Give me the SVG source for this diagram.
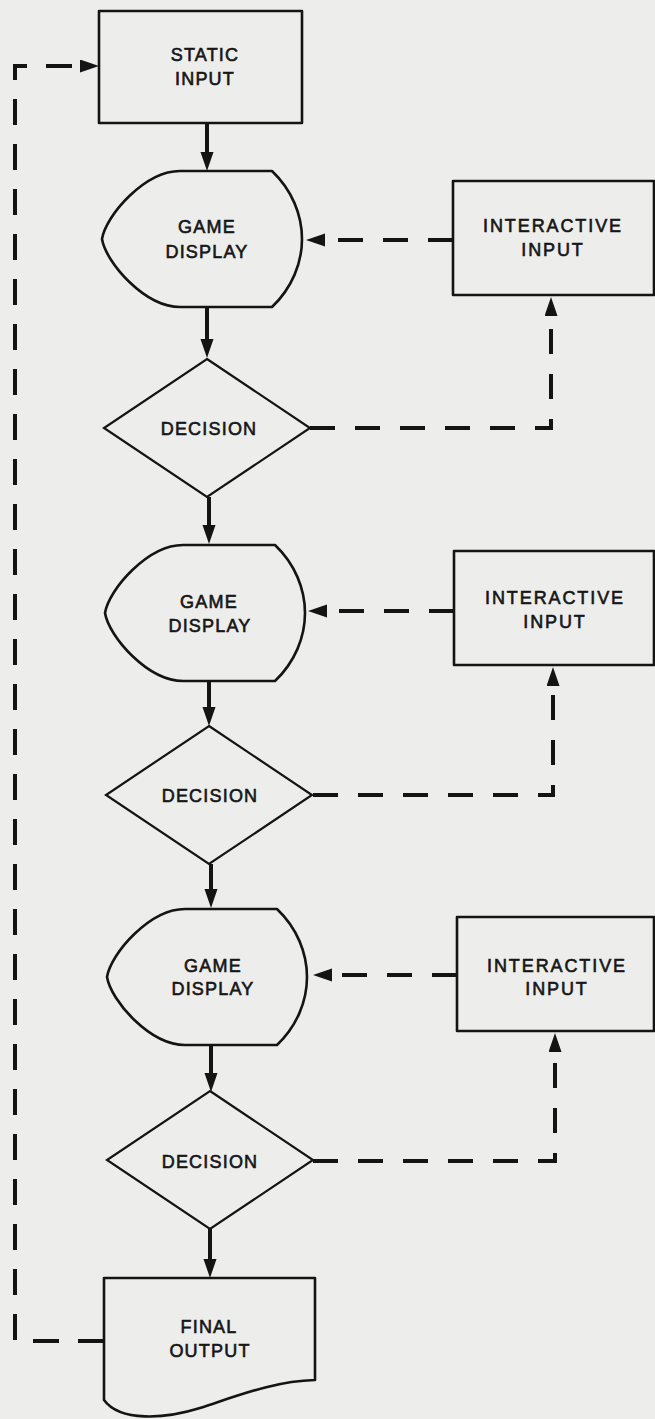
<svg xmlns="http://www.w3.org/2000/svg" xmlns:xlink="http://www.w3.org/1999/xlink" width="655" height="1419" viewBox="0 0 655 1419">
<style>
.shape{fill:none;stroke:#141414;stroke-width:2.6;stroke-linejoin:round}
.diam{fill:none;stroke:#141414;stroke-width:2.2;stroke-linejoin:miter}
.solid{fill:none;stroke:#141414;stroke-width:4}
.dash{fill:none;stroke:#141414;stroke-width:4;stroke-dasharray:25 20}
.lbl{font-family:"Liberation Sans",Arial,sans-serif;font-size:18px;font-weight:normal;fill:#161616;stroke:#161616;stroke-width:0.6;text-anchor:middle;letter-spacing:1.2px}
.wide{letter-spacing:1.9px}
</style>
<defs>
<marker id="ah" markerUnits="userSpaceOnUse" markerWidth="20" markerHeight="14" refX="9" refY="6.5" orient="auto">
<path d="M0,0 L19,6.5 L0,13 Z" fill="#141414"/>
</marker>
<path id="disp" d="M-27,-68 H65 C85,-49 95,-24 95,0 C95,24 85,49 65,68 H-27 C-62,68 -101,24 -105,0 C-101,-24 -62,-68 -27,-68 Z"/>
<path id="dia" d="M0,-69 L103,0 L0,69 L-103,0 Z"/>
</defs>
<rect x="0" y="0" width="655" height="1419" fill="#ededeb"/>

<g id="static-input">
<rect class="shape" x="99" y="11" width="203" height="112"/>
<text class="lbl" x="205" y="61">STATIC</text>
<text class="lbl" x="205" y="85">INPUT</text>
</g>

<g id="game-display-1">
<use xlink:href="#disp" href="#disp" class="shape" transform="translate(207,239)"/>
<text class="lbl" x="207" y="233">GAME</text>
<text class="lbl" x="207" y="258">DISPLAY</text>
</g>

<g id="interactive-input-1">
<rect class="shape" x="453" y="181" width="201" height="114"/>
<text class="lbl wide" x="553" y="232">INTERACTIVE</text>
<text class="lbl wide" x="553" y="256">INPUT</text>
</g>

<g id="decision-1">
<use xlink:href="#dia" href="#dia" class="diam" transform="translate(207,428)"/>
<text class="lbl" x="209" y="435">DECISION</text>
</g>

<g id="game-display-2">
<use xlink:href="#disp" href="#disp" class="shape" transform="translate(210,613)"/>
<text class="lbl" x="209" y="608">GAME</text>
<text class="lbl" x="210" y="632">DISPLAY</text>
</g>

<g id="interactive-input-2">
<rect class="shape" x="454" y="551" width="200" height="114"/>
<text class="lbl wide" x="555" y="604">INTERACTIVE</text>
<text class="lbl wide" x="555" y="628">INPUT</text>
</g>

<g id="decision-2">
<use xlink:href="#dia" href="#dia" class="diam" transform="translate(209,795)"/>
<text class="lbl" x="210" y="802">DECISION</text>
</g>

<g id="game-display-3">
<use xlink:href="#disp" href="#disp" class="shape" transform="translate(212,977)"/>
<text class="lbl" x="213" y="972">GAME</text>
<text class="lbl" x="213" y="995">DISPLAY</text>
</g>

<g id="interactive-input-3">
<rect class="shape" x="457" y="917" width="197" height="114"/>
<text class="lbl wide" x="557" y="972">INTERACTIVE</text>
<text class="lbl wide" x="557" y="995">INPUT</text>
</g>

<g id="decision-3">
<use xlink:href="#dia" href="#dia" class="diam" transform="translate(210,1160)"/>
<text class="lbl" x="210" y="1168">DECISION</text>
</g>

<g id="final-output">
<path class="shape" d="M104,1278 H315 V1380 C275,1381 240,1395 200,1408 C165,1419 120,1422 104,1400 Z"/>
<text class="lbl" x="209" y="1333">FINAL</text>
<text class="lbl" x="210" y="1357">OUTPUT</text>
</g>

<g id="connectors">
<path class="solid" d="M207,123 V161" marker-end="url(#ah)"/>
<path class="solid" d="M207,307 V348" marker-end="url(#ah)"/>
<path class="solid" d="M209,497 V534" marker-end="url(#ah)"/>
<path class="solid" d="M209,682 V716" marker-end="url(#ah)"/>
<path class="solid" d="M211,864 V898" marker-end="url(#ah)"/>
<path class="solid" d="M211,1046 V1082" marker-end="url(#ah)"/>
<path class="solid" d="M210,1229 V1268" marker-end="url(#ah)"/>

<path class="dash" d="M453,240 H316" marker-end="url(#ah)"/>
<path class="dash" d="M454,611 H318" marker-end="url(#ah)"/>
<path class="dash" d="M457,975 H323" marker-end="url(#ah)"/>

<path class="dash" d="M310,428 H551 V307" marker-end="url(#ah)"/>
<path class="dash" d="M313,795 H553 V677" marker-end="url(#ah)"/>
<path class="dash" d="M313,1161 H555 V1043" marker-end="url(#ah)"/>

<path class="dash" d="M104,1341 H15 V66 H89" style="stroke-dasharray:26 19" marker-end="url(#ah)"/>
</g>
</svg>
